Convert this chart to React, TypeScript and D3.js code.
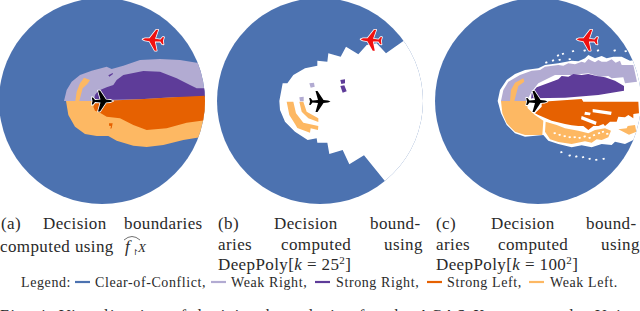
import React from "react";
import * as d3 from "d3";

type P = [number, number];
const BLUE = "#4c72b0", LAV = "#b2abd2", PUR = "#5e3c99", ORG = "#e66101", LOR = "#fdb863";

// Regions, in a 640x570 reading grid per panel
const aWeakRight: P[] = [[192,303],[200,270],[215,245],[240,225],[275,212],[320,200],[335,207],[370,197],[420,180],[480,177],[540,180],[590,188],[620,190],[620,303]];
const aWeakLeft: P[] = [[198,303],[205,345],[225,380],[255,402],[290,408],[325,408],[350,422],[400,437],[440,441],[490,435],[550,420],[600,412],[620,410],[620,295],[400,303]];
const aTail: P[] = [[226,303],[230,275],[240,250],[252,233],[270,240],[262,252],[248,265],[238,303]];
const aStrongRight: P[] = [[282,300],[285,285],[295,272],[320,262],[340,255],[350,240],[370,225],[430,213],[480,215],[530,235],[570,255],[590,265],[620,265],[620,290],[520,292],[420,298],[300,300]];
const aStrongLeft: P[] = [[280,320],[285,310],[300,303],[420,298],[520,292],[620,287],[620,360],[560,368],[500,385],[440,390],[400,375],[360,355],[320,350],[300,338],[285,332]];
const aSpeckOrange: P[] = [[327,370],[338,370],[335,385],[331,386],[333,378],[327,377]];
const aSpeckPurple: P[] = [[325,226],[338,219],[339,222],[328,230]];

const bCarve: P[] = [[208,303],[210,330],[225,365],[255,395],[293,420],[320,415],[322,428],[352,428],[358,462],[398,450],[418,493],[462,466],[524,542],[620,660],[700,660],[700,37],[577,125],[528,160],[500,130],[470,135],[445,163],[408,140],[392,170],[355,160],[352,185],[322,182],[322,197],[285,205],[250,225],[232,250],[218,250]];
const bArcOuter: P[] = [[230,305],[250,305],[258,340],[280,368],[325,378],[324,390],[302,385],[300,398],[262,384],[255,372],[238,345]];
const bArcInner: P[] = [[268,305],[280,305],[290,335],[325,355],[325,366],[295,355],[275,335]];
const bLav1: P[] = [[298,250],[312,248],[314,260],[302,263]];
const bLav2: P[] = [[268,292],[281,290],[281,304],[270,304]];
const bPur1: P[] = [[391,240],[405,238],[405,250],[394,252]];
const bPur2: P[] = [[391,258],[403,256],[410,274],[398,278]];

const cCarve: P[] = [[218,303],[225,270],[245,240],[270,222],[300,210],[340,205],[360,195],[400,190],[440,182],[460,184],[480,175],[490,165],[510,175],[530,168],[545,175],[565,170],[590,170],[615,182],[660,175],[660,440],[625,420],[600,432],[570,425],[560,435],[530,432],[500,442],[470,436],[440,442],[400,432],[370,422],[355,405],[300,410],[270,400],[245,375],[228,340]];
const cWeakRight: P[] = [[228,303],[235,270],[250,245],[285,225],[320,212],[345,210],[360,200],[400,195],[415,197],[430,190],[450,193],[470,185],[480,188],[490,177],[500,182],[510,187],[520,180],[530,185],[545,185],[560,178],[572,188],[585,182],[590,195],[625,195],[636,245],[600,250],[595,232],[560,235],[550,228],[525,230],[490,220],[440,225],[390,225],[340,250],[320,275],[305,303]];
const cStrongRight: P[] = [[318,298],[320,280],[335,262],[380,245],[400,238],[410,228],[430,230],[445,222],[470,225],[490,222],[515,228],[540,232],[570,242],[597,258],[597,272],[520,285],[420,293],[320,295]];
const cTail: P[] = [[255,303],[258,270],[270,248],[295,235],[298,245],[280,258],[268,303]];
const cStrongLeft: P[] = [[330,340],[350,320],[350,305],[470,297],[475,305],[640,305],[642,340],[625,342],[625,355],[610,345],[600,352],[580,350],[575,365],[555,365],[540,378],[535,372],[520,378],[505,378],[490,390],[475,378],[460,378],[440,376],[420,372],[380,362],[340,345]];
const cWeakLeftBlob: P[] = [[228,303],[305,303],[308,325],[330,345],[355,362],[352,405],[300,405],[270,395],[245,370],[232,340]];
const cWeakLeftBand: P[] = [[362,365],[395,375],[420,385],[460,392],[490,400],[510,390],[540,385],[558,392],[550,412],[530,420],[515,418],[500,428],[480,424],[440,432],[400,426],[375,418],[360,395]];
const cWeakLeftEnd: P[] = [[580,388],[605,385],[608,378],[630,375],[634,395],[612,404]];
const cBars: P[][] = [
  [[503,327],[560,335],[558,345],[503,337]],
  [[470,348],[515,365],[512,375],[468,358]],
  [[480,335],[497,338],[495,346],[478,344]],
];
const cDots: P[] = [[385,398],[400,403],[415,407],[430,410],[445,410],[460,412],[475,408],[490,412],[503,404],[518,398],[530,394],[543,400],[395,165],[410,160],[440,152],[475,150],[515,150],[565,150],[598,152],[405,455],[430,465],[450,468],[470,470],[490,475],[510,478],[532,475],[360,186],[380,180],[400,178],[430,176]];

const planeHalf: P[] = [[10.5,0],[8,-1.1],[3.5,-1.4],[-2.5,-10.5],[-4.5,-10.5],[-2,-1.4],[-7.5,-1.1],[-9.5,-3.6],[-10.8,-3.6],[-10,0]];
const planeShape: P[] = [...planeHalf, ...planeHalf.slice(1, -1).reverse().map(([x, y]) => [x, -y] as P)];

const legendNames = ["Clear-of-Conflict,", "Weak Right,", "Strong Right,", "Strong Left,", "Weak Left."];
const legendColors = [BLUE, LAV, PUR, ORG, LOR];
const legendSwatchX = [75, 211, 315, 427, 529];
const legendTextX = [95, 231, 336, 447, 550];

const captionWords: [string, number, number][] = [
  ["(a)", 1, 229], ["Decision", 43, 229], ["boundaries", 124, 229], ["computed using", 0, 252],
  ["(b)", 218, 229], ["Decision", 274, 229], ["bound-", 370, 229], ["aries", 218, 250], ["computed", 281, 250], ["using", 384, 250],
  ["(c)", 436, 229], ["Decision", 491, 229], ["bound-", 586, 229], ["aries", 436, 250], ["computed", 498, 250], ["using", 601, 250],
];

const SERIF = "'Liberation Serif', serif";
const poly = (pts: P[], ox: number) => {
  const x = d3.scaleLinear().domain([0, 640]).range([ox, ox + 640 / 3]);
  const y = d3.scaleLinear().domain([0, 570]).range([0, 190]);
  return d3.line<P>().x(d => x(d[0])).y(d => y(d[1])).curve(d3.curveLinearClosed)(pts) || "";
};
const planePath = d3.line<P>().curve(d3.curveLinearClosed)(planeShape) || "";

function Plane({ x, y, color, rot, halo }: { x: number; y: number; color: string; rot: number; halo?: boolean }) {
  return (
    <path d={planePath} transform={`translate(${x},${y}) rotate(${rot})`} fill={color}
      stroke={halo ? "#fff" : "none"} strokeWidth={halo ? 1.6 : 0} paintOrder="stroke" strokeLinejoin="round" />
  );
}

function Panel({ id, cx, children }: { id: string; cx: number; children: React.ReactNode }) {
  return (
    <g>
      <clipPath id={id}><circle cx={cx} cy={101} r={103} /></clipPath>
      <circle cx={cx} cy={101} r={103} fill={BLUE} />
      <g clipPath={`url(#${id})`}>{children}</g>
    </g>
  );
}

export default function App() {
  const P = (pts: P[], ox: number, fill: string) => <path d={poly(pts, ox)} fill={fill} />;
  const tx = { fontFamily: SERIF, fontSize: 17, fill: "#2a2a2a", letterSpacing: 0.4 } as const;
  const lg = { fontFamily: SERIF, fontSize: 14, fill: "#2a2a2a", letterSpacing: 0.6 } as const;
  return (
    <svg width={640} height={311} style={{ position: "absolute", left: 0, top: 0, background: "#fff" }}>
      <Panel id="pa" cx={102}>
        {P(aWeakRight, 0, LAV)}{P(aWeakLeft, 0, LOR)}{P(aTail, 0, LOR)}
        {P(aStrongRight, 0, PUR)}{P(aStrongLeft, 0, ORG)}{P(aSpeckOrange, 0, ORG)}{P(aSpeckPurple, 0, PUR)}
      </Panel>
      <Plane x={153} y={40} color="#f01010" rot={184} halo />
      <Plane x={102.5} y={101} color="#000" rot={0} halo />

      <Panel id="pb" cx={320}>
        {P(bCarve, 210, "#fff")}
        {P(bArcOuter, 210, LOR)}{P(bArcInner, 210, LOR)}{P(bLav1, 210, LAV)}{P(bLav2, 210, LAV)}{P(bPur1, 210, PUR)}{P(bPur2, 210, PUR)}
      </Panel>
      <Plane x={371} y={40} color="#f01010" rot={184} halo />
      <Plane x={320} y={101.5} color="#000" rot={0} />

      <Panel id="pc" cx={538}>
        {P(cCarve, 425, "#fff")}
        {P(cWeakRight, 425, LAV)}{P(cTail, 425, LOR)}{P(cStrongRight, 425, PUR)}{P(cStrongLeft, 425, ORG)}
        {P(cWeakLeftBlob, 425, LOR)}{P(cWeakLeftBand, 425, LOR)}{P(cWeakLeftEnd, 425, LOR)}
        {cBars.map((b, i) => <path key={i} d={poly(b, 425)} fill="#fff" />)}
        {cDots.map(([a, b], i) => <path key={i} d={poly([[a, b], [a + 6, b - 2], [a + 8, b + 3], [a + 2, b + 5]], 425)} fill="#fff" />)}
      </Panel>
      <Plane x={587} y={40} color="#f01010" rot={184} halo />
      <Plane x={537} y={101.5} color="#000" rot={0} halo />

      {captionWords.map(([w, x, y], i) => <text key={i} x={x} y={y} {...tx}>{w}</text>)}
      <text x={125} y={252} {...tx} fontStyle="italic">f</text>
      <text x={132} y={255} {...tx} fontSize={8} letterSpacing={0}>↾</text>
      <text x={138} y={252} {...tx} fontSize={13} fontStyle="italic">X</text>
      <path d="M124 240 Q132 233 140 240" fill="none" stroke="#333" strokeWidth={0.7} />
      <text x={218} y={270} {...tx}>DeepPoly[<tspan fontStyle="italic">k</tspan> = 25<tspan dy={-6} fontSize={11}>2</tspan><tspan dy={6}>]</tspan></text>
      <text x={436} y={270} {...tx}>DeepPoly[<tspan fontStyle="italic">k</tspan> = 100<tspan dy={-6} fontSize={11}>2</tspan><tspan dy={6}>]</tspan></text>

      <text x={21} y={287} {...lg}>Legend:</text>
      {legendNames.map((n, i) => (
        <g key={n}>
          <line x1={legendSwatchX[i]} x2={legendSwatchX[i] + 15} y1={282} y2={282} stroke={legendColors[i]} strokeWidth={2.2} />
          <text x={legendTextX[i]} y={287} {...lg}>{n}</text>
        </g>
      ))}
      <text x={0} y={321} fontFamily={SERIF} fontSize={16} fill="#2a2a2a" textLength={640}>Fig. 4: Visualization of decision boundaries for the ACAS Xu case study. Using</text>
    </svg>
  );
}
